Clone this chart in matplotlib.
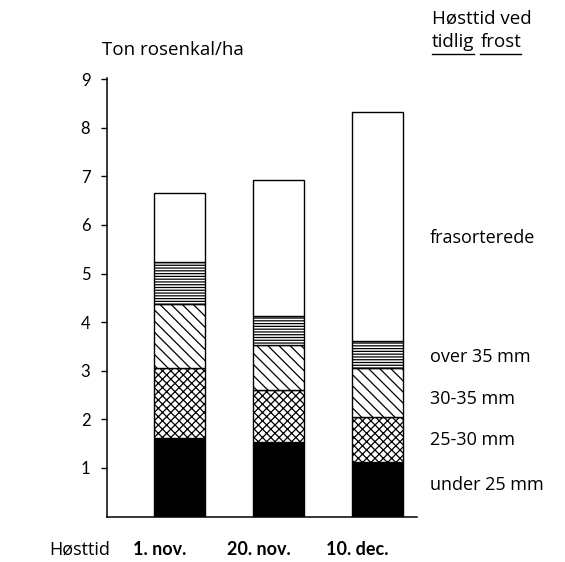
import matplotlib
matplotlib.use('Agg')
import matplotlib.pyplot as plt
from matplotlib import transforms
import numpy as np

plt.rcParams['font.family'] = ['Lato', 'DejaVu Sans']
plt.rcParams['hatch.linewidth'] = 0.9

# Ton rosenkal per ha, split by sprout size
harvest_dates = ['1. nov.', '20. nov.', '10. dec.']
under_25 = [1.62, 1.54, 1.13]
mm_25_30 = [1.43, 1.06, 0.91]
mm_30_35 = [1.32, 0.93, 1.01]
over_35 = [0.87, 0.60, 0.57]
frasorterede = [1.42, 2.80, 4.71]

class_labels = ['under 25 mm', '25-30 mm', '30-35 mm', 'over 35 mm', 'frasorterede']
label_heights = [0.65, 1.58, 2.41, 3.29, 5.73]
y_ticks = list(range(1, 10))

LIGHT = ['Open Sans', 'DejaVu Sans']

layers = [under_25, mm_25_30, mm_30_35, over_35, frasorterede]
styles = [
    dict(color='black', hatch=None),
    dict(color='white', hatch='xxxx'),
    dict(color='white', hatch='\\\\\\'),
    dict(color='white', hatch='------'),
    dict(color='white', hatch=None),
]

fig = plt.figure(figsize=(5.65, 5.62), dpi=100)
ax = fig.add_axes([0.1894, 0.0808, 0.5487, 0.780])

x = np.arange(len(harvest_dates))
bottom = np.zeros(len(x))
for vals, st in zip(layers, styles):
    ax.bar(x, vals, width=0.52, bottom=bottom, color=st['color'],
           hatch=st['hatch'], edgecolor='black', linewidth=1.0)
    bottom += np.array(vals)

ax.set_xlim(-0.732, 2.399)
ax.set_ylim(0, 9.02)

for side in ['top', 'right']:
    ax.spines[side].set_visible(False)
ax.spines['left'].set_linewidth(1.1)
ax.spines['bottom'].set_linewidth(1.1)

ax.set_yticks(y_ticks)
ax.set_yticklabels([str(t) for t in y_ticks], fontsize=12)
ax.tick_params(axis='y', direction='out', length=4, width=1, pad=8)
ax.set_xticks([])

# class labels to the right of the bars
for lab, yy in zip(class_labels, label_heights):
    ax.text(2.53, yy, lab, fontsize=13, family=LIGHT, va='center', ha='left',
            clip_on=False)

# harvest dates under the bars (set slightly to the left as in the original)
trans = transforms.blended_transform_factory(ax.transData, fig.transFigure)
for xi, lab in zip(x, harvest_dates):
    ax.text(xi - 0.2, 1 - 555 / 562, lab, transform=trans, fontsize=13,
            fontweight='bold', ha='center', va='baseline')
fig.text(110 / 565, 1 - 555 / 562, 'Høsttid', fontsize=13, family=LIGHT,
         ha='right', va='baseline')

fig.text(102 / 565, 1 - 55 / 562, 'Ton rosenkal/ha', fontsize=13.5, family=LIGHT,
         va='baseline')
fig.text(432 / 565, 1 - 24 / 562, 'Høsttid ved', fontsize=13.5, family=LIGHT,
         va='baseline')
t1 = fig.text(432 / 565, 1 - 47 / 562, 'tidlig', fontsize=13.5, family=LIGHT,
              va='baseline')
fig.canvas.draw()
r = fig.canvas.get_renderer()
bb = t1.get_window_extent(r)
t2 = fig.text((bb.x1 + 6) / 565, 1 - 47 / 562, 'frost', fontsize=13.5, family=LIGHT,
              va='baseline')
fig.canvas.draw()
bb2 = t2.get_window_extent(r)
for b in (bb, bb2):
    fig.add_artist(plt.Line2D([b.x0 / 565, b.x1 / 565], [1 - 54 / 562] * 2,
                              transform=fig.transFigure, color='black', lw=1.0))

fig.savefig('out.png', dpi=100)
